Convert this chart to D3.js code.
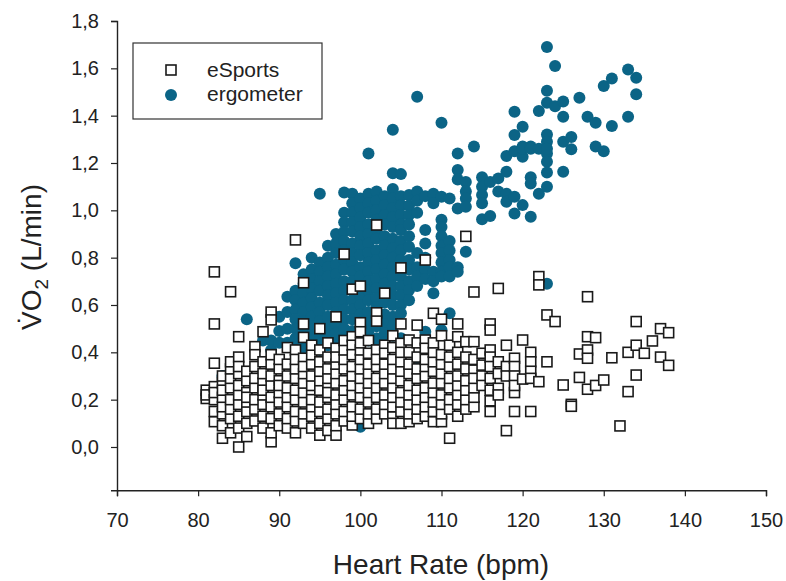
<!DOCTYPE html>
<html>
<head>
<meta charset="utf-8">
<title>VO2 vs Heart Rate</title>
<script src="https://cdnjs.cloudflare.com/ajax/libs/d3/7.8.5/d3.min.js"></script>
<style>
  body { margin: 0; background: #fff; }
  text { font-family: "Liberation Sans", Arial, sans-serif; fill: #222; }
</style>
</head>
<body>
<script>
// heart rate ticks and VO2 ticks
var xTicks = [70, 80, 90, 100, 110, 120, 130, 140, 150];
var yTicks = [0, 0.2, 0.4, 0.6, 0.8, 1.0, 1.2, 1.4, 1.6, 1.8];
var seriesNames = ["eSports", "ergometer"];

// ergometer: [heart rate, [VO2 values at that rate]]
var ergometerCols = [
  [83, [0.30]],
  [86, [0.54]],
  [88, [0.45]],
  [89, [0.45, 0.41]],
  [90, [0.49, 0.44, 0.55, 0.35]],
  [91, [0.50, 0.44, 0.57, 0.635]],
  [92, [0.776, 0.66, 0.62, 0.58, 0.54, 0.50, 0.46, 0.42]],
  [93, [0.73, 0.69, 0.65, 0.61, 0.57, 0.53, 0.49, 0.45, 0.41]],
  [94, [0.80, 0.75, 0.71, 0.67, 0.63, 0.59, 0.55, 0.51, 0.47, 0.43]],
  [95, [1.07, 0.78, 0.74, 0.70, 0.66, 0.61, 0.57, 0.53, 0.49, 0.45, 0.41]],
  [96, [0.85, 0.80, 0.76, 0.72, 0.68, 0.64, 0.60, 0.55, 0.51, 0.47, 0.43]],
  [97, [0.90, 0.86, 0.82, 0.77, 0.73, 0.69, 0.65, 0.61, 0.57, 0.52, 0.48, 0.44]],
  [98, [1.075, 0.99, 0.95, 0.91, 0.87, 0.83, 0.79, 0.75, 0.70, 0.66, 0.62, 0.58, 0.54, 0.50, 0.46, 0.42]],
  [99, [1.07, 1.03, 0.99, 0.95, 0.91, 0.86, 0.82, 0.78, 0.74, 0.70, 0.66, 0.62, 0.58, 0.54, 0.49, 0.45, 0.41]],
  [100, [1.05, 1.01, 0.97, 0.93, 0.89, 0.85, 0.81, 0.76, 0.72, 0.68, 0.64, 0.60, 0.56, 0.52, 0.48, 0.44, 0.086]],
  [101, [1.24, 1.07, 1.03, 0.99, 0.94, 0.90, 0.86, 0.82, 0.78, 0.74, 0.70, 0.66, 0.62, 0.57, 0.53, 0.49, 0.45]],
  [102, [1.08, 1.04, 1.00, 0.96, 0.92, 0.88, 0.83, 0.79, 0.75, 0.71, 0.67, 0.63, 0.59, 0.55, 0.51, 0.46, 0.42]],
  [103, [1.06, 1.02, 0.98, 0.94, 0.89, 0.85, 0.81, 0.77, 0.73, 0.69, 0.65, 0.61, 0.56, 0.52, 0.48, 0.44]],
  [104, [1.34, 1.157, 1.09, 1.05, 1.01, 0.97, 0.93, 0.88, 0.84, 0.80, 0.76, 0.72, 0.68, 0.64, 0.60, 0.55, 0.51, 0.47]],
  [105, [1.153, 1.06, 1.02, 0.98, 0.94, 0.917, 0.87, 0.83, 0.79, 0.72, 0.68, 0.64, 0.60, 0.565, 0.46, 0.41]],
  [106, [1.065, 1.02, 0.98, 0.94, 0.89, 0.846, 0.79, 0.75, 0.70, 0.663, 0.62, 0.24]],
  [107, [1.48, 1.08, 1.04, 0.99, 0.82, 0.76, 0.72, 0.68, 0.355]],
  [108, [1.06, 0.917, 0.86, 0.80, 0.75, 0.71, 0.487]],
  [109, [1.07, 1.03, 0.74, 0.70, 0.65]],
  [110, [1.37, 1.057, 0.96, 0.93, 0.89, 0.85, 0.82, 0.78, 0.74, 0.72, 0.494, 0.31]],
  [111, [1.05, 0.87, 0.83, 0.79, 0.76, 0.72, 0.565]],
  [112, [1.24, 1.17, 1.13, 1.008, 0.76, 0.74]],
  [113, [1.12, 1.08, 1.05, 1.015, 0.825]],
  [114, [1.27]],
  [115, [1.14, 1.10, 1.065, 1.03, 0.962]],
  [116, [1.12, 0.976]],
  [117, [1.135, 1.08]],
  [118, [1.23, 1.163, 1.07, 1.036]],
  [119, [1.417, 1.318, 1.25, 1.057, 0.987]],
  [120, [1.353, 1.27, 1.226, 1.022, 1.26]],
  [121, [1.27, 1.14, 1.113, 0.973, 1.26]],
  [122, [1.42, 1.26, 1.07]],
  [123, [1.69, 1.505, 1.455, 1.32, 1.29, 1.24, 1.205, 1.16, 1.10, 1.26, 0.69]],
  [124, [1.61, 1.44]],
  [125, [1.46, 1.395, 1.29, 1.163]],
  [126, [1.31, 1.258]],
  [127, [1.476]],
  [128, [1.395]],
  [129, [1.37, 1.27]],
  [130, [1.525, 1.25]],
  [131, [1.557, 1.356]],
  [133, [1.595, 1.395]],
  [134, [1.56, 1.49]]
];

// eSports: [heart rate, [VO2 values at that rate]]
var esportsCols = [
  [81, [0.24, 0.205, 0.22]],
  [82, [0.74, 0.52, 0.354, 0.255, 0.107, 0.15, 0.20, 0.23]],
  [83, [0.037, 0.09, 0.14, 0.17, 0.21, 0.27, 0.30, 0.24]],
  [84, [0.656, 0.06, 0.12, 0.16, 0.20, 0.25, 0.29, 0.33, 0.36]],
  [85, [0.0, 0.466, 0.38, 0.08, 0.13, 0.18, 0.22, 0.26, 0.31, 0.34]],
  [86, [0.044, 0.10, 0.15, 0.19, 0.23, 0.28, 0.32, 0.21]],
  [87, [0.424, 0.39, 0.11, 0.16, 0.20, 0.25, 0.29, 0.34]],
  [88, [0.487, 0.08, 0.13, 0.18, 0.22, 0.27, 0.31, 0.36, 0.24]],
  [89, [0.57, 0.537, 0.022, 0.06, 0.12, 0.17, 0.21, 0.26, 0.30, 0.35, 0.39]],
  [90, [0.09, 0.14, 0.19, 0.23, 0.28, 0.33, 0.37, 0.26]],
  [91, [0.08, 0.12, 0.17, 0.21, 0.25, 0.30, 0.35, 0.42]],
  [92, [0.875, 0.41, 0.06, 0.11, 0.15, 0.20, 0.24, 0.29, 0.33, 0.37]],
  [93, [0.694, 0.52, 0.463, 0.375, 0.10, 0.14, 0.19, 0.23, 0.27, 0.31, 0.34]],
  [94, [0.08, 0.13, 0.17, 0.22, 0.26, 0.30, 0.35, 0.39, 0.43, 0.20]],
  [95, [0.05, 0.50, 0.10, 0.15, 0.19, 0.24, 0.28, 0.32, 0.36, 0.41]],
  [96, [0.07, 0.12, 0.16, 0.21, 0.25, 0.29, 0.33, 0.38, 0.44, 0.23]],
  [97, [0.05, 0.55, 0.417, 0.09, 0.14, 0.18, 0.22, 0.27, 0.31, 0.35, 0.38]],
  [98, [0.815, 0.11, 0.15, 0.20, 0.24, 0.28, 0.33, 0.37, 0.41, 0.45]],
  [99, [0.667, 0.466, 0.43, 0.093, 0.13, 0.17, 0.22, 0.26, 0.30, 0.34, 0.39]],
  [100, [0.68, 0.525, 0.487, 0.12, 0.16, 0.21, 0.25, 0.29, 0.33, 0.37, 0.41, 0.44]],
  [101, [0.396, 0.10, 0.14, 0.19, 0.23, 0.27, 0.31, 0.35, 0.45]],
  [102, [0.938, 0.567, 0.532, 0.41, 0.12, 0.16, 0.21, 0.25, 0.29, 0.34, 0.37]],
  [103, [0.65, 0.43, 0.396, 0.14, 0.18, 0.22, 0.27, 0.31, 0.35]],
  [104, [0.128, 0.10, 0.17, 0.21, 0.25, 0.29, 0.33, 0.37, 0.42, 0.47]],
  [105, [0.757, 0.52, 0.438, 0.10, 0.15, 0.19, 0.23, 0.28, 0.32, 0.36, 0.40]],
  [106, [0.452, 0.40, 0.107, 0.14, 0.18, 0.22, 0.26, 0.31, 0.35]],
  [107, [0.515, 0.12, 0.16, 0.20, 0.24, 0.29, 0.33, 0.38, 0.44]],
  [108, [0.79, 0.452, 0.417, 0.13, 0.17, 0.21, 0.25, 0.30, 0.34, 0.37]],
  [109, [0.565, 0.107, 0.15, 0.19, 0.23, 0.27, 0.32, 0.36, 0.40, 0.44]],
  [110, [0.54, 0.107, 0.14, 0.18, 0.22, 0.27, 0.31, 0.35, 0.39, 0.47]],
  [111, [0.037, 0.16, 0.20, 0.25, 0.29, 0.34, 0.38, 0.43]],
  [112, [0.52, 0.466, 0.13, 0.18, 0.22, 0.26, 0.30, 0.35, 0.40]],
  [113, [0.89, 0.445, 0.16, 0.20, 0.24, 0.28, 0.33, 0.38]],
  [114, [0.655, 0.445, 0.325, 0.17, 0.21, 0.25, 0.29, 0.37]],
  [115, [0.396, 0.346, 0.30, 0.26]],
  [116, [0.52, 0.494, 0.41, 0.38, 0.34, 0.24, 0.195, 0.15, 0.29]],
  [117, [0.67, 0.36, 0.248, 0.22, 0.31]],
  [118, [0.43, 0.34, 0.069, 0.30]],
  [119, [0.375, 0.34, 0.30, 0.23, 0.15, 0.26]],
  [120, [0.452, 0.287]],
  [121, [0.40, 0.36, 0.32, 0.29, 0.15]],
  [122, [0.72, 0.685, 0.276]],
  [123, [0.558, 0.36]],
  [124, [0.53]],
  [125, [0.262]],
  [126, [0.18, 0.172]],
  [127, [0.393, 0.294]],
  [128, [0.635, 0.466, 0.41, 0.375, 0.244]],
  [129, [0.462, 0.26]],
  [130, [0.283]],
  [131, [0.377]],
  [132, [0.089]],
  [133, [0.40, 0.234]],
  [134, [0.53, 0.43, 0.304]],
  [135, [0.396]],
  [136, [0.448]],
  [137, [0.50, 0.38]],
  [138, [0.483, 0.345]]
];

var width = 786, height = 581,
    blue = "#0b6486",
    sq = 10, radius = 6;

function flatten(cols) {
  return cols.flatMap(function(c) {
    return c[1].map(function(v) { return {hr: c[0], vo2: v}; });
  });
}
var ergometer = flatten(ergometerCols),
    esports = flatten(esportsCols);

var x = d3.scaleLinear().domain([70, 150]).range([117, 766]);
var y = d3.scaleLinear().domain([-0.183, 1.8]).range([490.3, 21]);

var svg = d3.select("body").append("svg")
    .attr("width", width)
    .attr("height", height);

var comma = function(d) { return d3.format(".1f")(d).replace(".", ","); };

// axes
var xAxis = svg.append("g")
    .attr("transform", "translate(0," + y.range()[0] + ")")
    .call(d3.axisBottom(x).tickValues(xTicks).tickSizeOuter(0).tickSize(6).tickPadding(17));
var yAxis = svg.append("g")
    .attr("transform", "translate(" + x.range()[0] + ",0)")
    .call(d3.axisLeft(y).tickValues(yTicks).tickFormat(comma).tickSizeOuter(0).tickSize(6).tickPadding(12));

[xAxis, yAxis].forEach(function(g) {
  g.select(".domain").attr("stroke", "#222").attr("stroke-width", 1.4);
  g.selectAll(".tick line").attr("stroke", "#222").attr("stroke-width", 1.2);
  g.selectAll(".tick text")
    .style("font-family", "'Liberation Sans', Arial, sans-serif")
    .style("font-size", "20px")
    .attr("fill", "#222");
});

// ergometer circles first, squares drawn on top
svg.append("g").selectAll("circle")
    .data(ergometer)
  .enter().append("circle")
    .attr("cx", function(d) { return x(d.hr); })
    .attr("cy", function(d) { return y(d.vo2); })
    .attr("r", radius)
    .attr("fill", blue);

svg.append("g").selectAll("rect")
    .data(esports)
  .enter().append("rect")
    .attr("x", function(d) { return x(d.hr) - sq / 2; })
    .attr("y", function(d) { return y(d.vo2) - sq / 2; })
    .attr("width", sq)
    .attr("height", sq)
    .attr("fill", "#fff")
    .attr("stroke", "#1a1a1a")
    .attr("stroke-width", 1.6);

// axis titles
svg.append("text")
    .attr("x", 441)
    .attr("y", 574)
    .attr("text-anchor", "middle")
    .style("font-size", "28px")
    .text("Heart Rate (bpm)");

var yTitle = svg.append("text")
    .attr("transform", "translate(41,257) rotate(-90)")
    .attr("text-anchor", "middle")
    .style("font-size", "28px");
yTitle.append("tspan").text("V\u0307O");
yTitle.append("tspan").attr("dy", 7).style("font-size", "19px").text("2");
yTitle.append("tspan").attr("dy", -7).text(" (L/min)");

// legend
var legend = svg.append("g");
legend.append("rect")
    .attr("x", 133).attr("y", 43)
    .attr("width", 189).attr("height", 76)
    .attr("fill", "#fff")
    .attr("stroke", "#333")
    .attr("stroke-width", 1.2);
legend.append("rect")
    .attr("x", 171 - sq / 2).attr("y", 70 - sq / 2)
    .attr("width", sq).attr("height", sq)
    .attr("fill", "#fff").attr("stroke", "#1a1a1a").attr("stroke-width", 1.6);
legend.append("circle")
    .attr("cx", 171).attr("cy", 95).attr("r", radius)
    .attr("fill", blue);
legend.selectAll("text.lbl")
    .data(seriesNames)
  .enter().append("text")
    .attr("class", "lbl")
    .attr("x", 207)
    .attr("y", function(d, i) { return 77 + i * 24; })
    .style("font-size", "21px")
    .text(function(d) { return d; });
</script>
</body>
</html>
